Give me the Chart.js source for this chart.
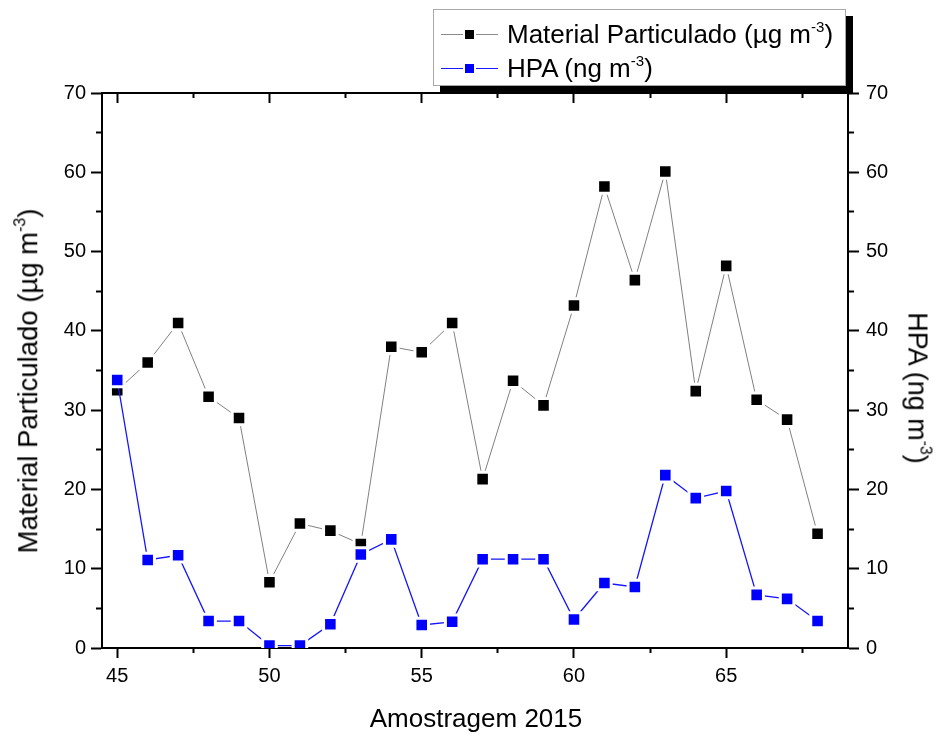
<!DOCTYPE html>
<html>
<head>
<meta charset="utf-8">
<title>Material Particulado e HPA — Amostragem 2015</title>
<script src="https://cdn.jsdelivr.net/npm/chart.js@4.4.1/dist/chart.umd.min.js"></script>
<style>
  html, body { margin: 0; padding: 0; background: #fff; }
  #wrap { position: relative; width: 939px; height: 735px; overflow: hidden;
          font-family: 'Liberation Sans', Arial, sans-serif; color: #000; }
  #chart { position: absolute; left: 0; top: 0; }
  .title { position: absolute; white-space: nowrap; line-height: 1; }
  .title.rot-left  { transform: translate(-50%, -50%) rotate(-90deg); }
  .title.rot-right { transform: translate(-50%, -50%) rotate(90deg); }
  .title.flat      { transform: translate(-50%, -50%); }
  sup { font-size: 0.58em; vertical-align: 0.75em; line-height: 0; }
  .legend { position: absolute; left: 433px; top: 9px; width: 411px; height: 75px;
            border: 1px solid #a8a8a8; background: #fff; box-shadow: 7px 7px 0 #000; }
  .row { position: absolute; left: 0; height: 30px; width: 100%; }
  .seg { position: absolute; height: 1px; top: 15px; }
  .mark { position: absolute; width: 9px; height: 9px; top: 11px; left: 31px; }
  .txt { position: absolute; left: 73px; top: 0px; font-size: 26px; line-height: 30px; white-space: nowrap; }
</style>
</head>
<body>
<div id="wrap">
  <canvas id="chart" width="939" height="735"></canvas>

  <div class="title rot-left" style="left:28px; top:381px; font-size:27.5px;">Material Particulado (µg m<sup>-3</sup>)</div>
  <div class="title rot-right" style="left:917px; top:388px; font-size:27px;">HPA (ng m<sup>-3</sup>)</div>
  <div class="title flat" style="left:476px; top:718px; font-size:26px;">Amostragem 2015</div>

  <div class="legend">
    <div class="row" style="top:9px;">
      <div class="seg" style="left:7px; width:22px; background:#8a8a8a;"></div>
      <div class="mark" style="background:#000;"></div>
      <div class="seg" style="left:42px; width:22px; background:#8a8a8a;"></div>
      <div class="txt">Material Particulado (µg m<sup>-3</sup>)</div>
    </div>
    <div class="row" style="top:43px;">
      <div class="seg" style="left:7px; width:22px; background:#1a1aff;"></div>
      <div class="mark" style="background:#0000ff;"></div>
      <div class="seg" style="left:42px; width:22px; background:#1a1aff;"></div>
      <div class="txt">HPA (ng m<sup>-3</sup>)</div>
    </div>
  </div>
</div>

<script>
// Sample numbers (2015 campaign) and the two measured series
const sampleNumbers = [45, 46, 47, 48, 49, 50, 51, 52, 53, 54, 55, 56,
                       57, 58, 59, 60, 61, 62, 63, 64, 65, 66, 67, 68];
const particulateValues = [32.5, 36.0, 41.0, 31.7, 29.0, 8.3, 15.7, 14.8, 13.1, 38.0, 37.3, 41.0,
                           21.3, 33.7, 30.6, 43.2, 58.2, 46.4, 60.1, 32.4, 48.2, 31.3, 28.8, 14.4];
const hpaValues = [33.8, 11.1, 11.7, 3.4, 3.4, 0.3, 0.3, 3.0, 11.8, 13.7, 2.9, 3.3,
                   11.2, 11.2, 11.2, 3.6, 8.2, 7.7, 21.8, 18.9, 19.8, 6.7, 6.2, 3.4];

// Axis ticks
const xMajorTicks = [45, 50, 55, 60, 65];
const xMinorTicks = [47.5, 52.5, 57.5, 62.5, 67.5];
const yMajorTicks = [0, 10, 20, 30, 40, 50, 60, 70];
const yMinorTicks = [5, 15, 25, 35, 45, 55, 65];

const X_RANGE = [44.5, 69];
const Y_RANGE = [0, 70];
const FONT_FAMILY = "'Liberation Sans', Arial, sans-serif";

const useTicks = values => scale => { scale.ticks = values.map(v => ({ value: v })); };
const fixHeight = h => scale => { scale.height = h; };
const fixWidth = w => scale => { scale.width = w; };

// Builds one axis layer; minor-tick layers share the same position with zero size
function axisLayer({ position, range, ticks, tickLength, labels, padding, size, weight }) {
  const horizontal = position === 'top' || position === 'bottom';
  return {
    type: 'linear',
    position,
    min: range[0],
    max: range[1],
    weight,
    afterBuildTicks: useTicks(ticks),
    afterFit: horizontal ? fixHeight(size) : fixWidth(size),
    border: { display: true, color: '#000', width: 2 },
    grid: {
      drawOnChartArea: false,
      drawTicks: true,
      tickLength,
      tickWidth: 2,
      tickColor: '#000',
      color: '#000'
    },
    ticks: {
      display: labels,
      color: '#000',
      padding,
      font: { family: FONT_FAMILY, size: 20 }
    }
  };
}

new Chart(document.getElementById('chart'), {
  type: 'line',
  data: {
    datasets: [
      {
        label: 'Material Particulado (µg m-3)',
        data: sampleNumbers.map((x, i) => ({ x, y: particulateValues[i] })),
        xAxisID: 'x',
        yAxisID: 'y',
        order: 1,
        borderColor: '#808080',
        borderWidth: 1,
        pointStyle: 'rect',
        pointRadius: 9.6,
        pointHoverRadius: 9.6,
        pointBackgroundColor: '#000',
        pointBorderColor: '#fff',
        pointBorderWidth: 3,
        tension: 0
      },
      {
        label: 'HPA (ng m-3)',
        data: sampleNumbers.map((x, i) => ({ x, y: hpaValues[i] })),
        xAxisID: 'x',
        yAxisID: 'y2',
        order: 0,
        borderColor: '#1414ff',
        borderWidth: 1.3,
        pointStyle: 'rect',
        pointRadius: 9.6,
        pointHoverRadius: 9.6,
        pointBackgroundColor: '#0000ff',
        pointBorderColor: '#fff',
        pointBorderWidth: 3,
        tension: 0
      }
    ]
  },
  options: {
    responsive: false,
    animation: false,
    devicePixelRatio: 1,
    layout: { padding: 0 },
    plugins: { legend: { display: false }, tooltip: { enabled: false } },
    events: [],
    scales: {
      x:       axisLayer({ position: 'bottom', range: X_RANGE, ticks: xMajorTicks, tickLength: 10,  labels: true,  padding: 6, size: 87, weight: 1 }),
      xMinor:  axisLayer({ position: 'bottom', range: X_RANGE, ticks: xMinorTicks, tickLength: 5,   labels: false, padding: 0, size: 0,  weight: 0 }),
      xTop:    axisLayer({ position: 'top',    range: X_RANGE, ticks: xMajorTicks, tickLength: -10, labels: false, padding: 0, size: 93, weight: 1 }),
      xTopMin: axisLayer({ position: 'top',    range: X_RANGE, ticks: xMinorTicks, tickLength: -5,  labels: false, padding: 0, size: 0,  weight: 0 }),
      y:       axisLayer({ position: 'left',   range: Y_RANGE, ticks: yMajorTicks, tickLength: 11,  labels: true,  padding: 5, size: 102, weight: 1 }),
      yMinor:  axisLayer({ position: 'left',   range: Y_RANGE, ticks: yMinorTicks, tickLength: 6,   labels: false, padding: 0, size: 0,  weight: 0 }),
      y2:      axisLayer({ position: 'right',  range: Y_RANGE, ticks: yMajorTicks, tickLength: 11,  labels: true,  padding: 7, size: 91, weight: 1 }),
      y2Minor: axisLayer({ position: 'right',  range: Y_RANGE, ticks: yMinorTicks, tickLength: 6,   labels: false, padding: 0, size: 0,  weight: 0 })
    }
  }
});
</script>
</body>
</html>
